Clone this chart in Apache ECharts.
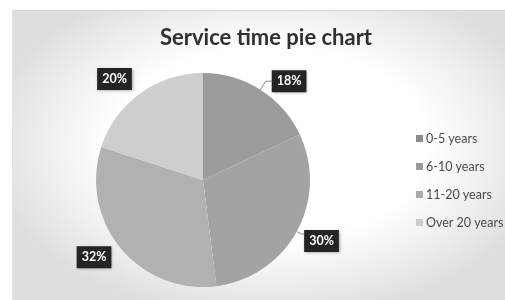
<!DOCTYPE html>
<html>
<head>
<meta charset="utf-8">
<script src="https://cdn.jsdelivr.net/npm/echarts@6/dist/echarts.min.js"></script>
<style>
    html, body { margin: 0; padding: 0; background: #fff; }
    #wrap { position: relative; width: 505px; height: 300px; overflow: hidden; }
    #bg {
        position: absolute; left: 12px; top: 10px; width: 493px; height: 290px;
        border-top: 1px solid #d6d6d6; border-left: 1px solid #e4e4e4;
        background: radial-gradient(ellipse 58% 60% at 52% 46%, #ffffff 55%, #eeeeee 80%, #dedede 100%);
    }
    #chart-container { position: absolute; left: 0; top: 0; width: 505px; height: 300px; }
</style>
</head>
<body>
<div id="wrap">
    <div id="bg"></div>
    <div id="chart-container"></div>
</div>
<script>
    var categories = ['0-5 years', '6-10 years', '11-20 years', 'Over 20 years'];
    var shares = [18, 30, 32, 20];
    var sliceColors = ['#9b9b9b', '#a3a3a3', '#b1b1b1', '#cecece'];
    var legendColors = ['#8c8c8c', '#999999', '#aaaaaa', '#cccccc'];
    // leader line per slice: [show, length, length2]
    var leaders = [[true, 10, 6], [true, 5, 3], [false, 8, 3], [false, 14, 0]];
    // small vertical nudge of each label box
    var labelNudge = [0, 7, 4, -3];

    var myChart = echarts.init(document.getElementById('chart-container'), null, { renderer: 'canvas' });

    var seriesData = [];
    categories.forEach(function (name, i) {
        seriesData.push({
            value: shares[i],
            name: name,
            itemStyle: { color: sliceColors[i] },
            labelLine: { show: leaders[i][0], length: leaders[i][1], length2: leaders[i][2] }
        });
    });

    var option = {
        animation: false,
        title: {
            text: 'Service time pie chart',
            left: 261,
            top: 22,
            textAlign: 'center',
            textStyle: { fontFamily: 'Lato', fontWeight: 'bold', fontSize: 22, color: '#303030' }
        },
        legend: {
            orient: 'vertical',
            left: 411,
            top: 127,
            itemWidth: 7,
            itemHeight: 7,
            itemGap: 15,
            icon: 'rect',
            data: categories.map(function (c, i) {
                return { name: c, itemStyle: { color: legendColors[i] } };
            }),
            textStyle: { fontFamily: 'Lato', fontSize: 12.5, color: '#4a4a4a', padding: [0, 0, 0, -2] }
        },
        series: [{
            type: 'pie',
            center: [203, 180],
            radius: 107,
            startAngle: 90,
            clockwise: true,
            avoidLabelOverlap: false,
            data: seriesData,
            label: {
                position: 'outside',
                formatter: '{c}%',
                color: '#fff',
                fontFamily: 'Lato',
                fontWeight: 'bold',
                fontSize: 12.5,
                backgroundColor: '#242424',
                padding: [5, 5, 4, 5],
                distanceToLabelLine: 0,
                shadowColor: 'rgba(0,0,0,0.35)',
                shadowBlur: 3,
                shadowOffsetX: 1,
                shadowOffsetY: 1
            },
            labelLayout: function (params) {
                return { dy: labelNudge[params.dataIndex] };
            },
            labelLine: {
                lineStyle: { color: '#8a8a8a', width: 1 }
            },
            emphasis: { disabled: true }
        }]
    };
    myChart.setOption(option);
</script>
</body>
</html>
